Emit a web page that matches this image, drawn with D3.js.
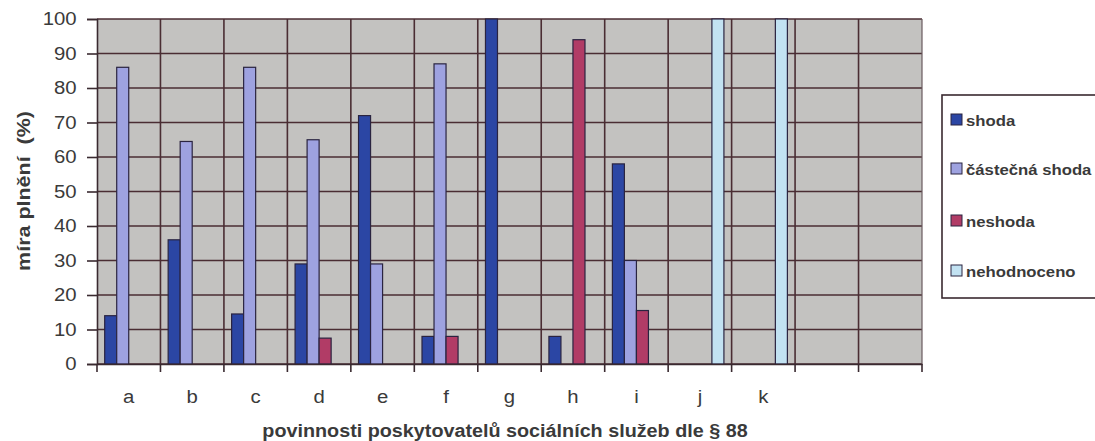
<!DOCTYPE html>
<html>
<head>
<meta charset="utf-8">
<script src="https://cdn.jsdelivr.net/npm/d3@7"></script>
<style>
  body { margin: 0; background: #fff; }
  text { font-family: "Liberation Sans", Arial, sans-serif; }
</style>
</head>
<body>
<div id="chart"></div>
<script>
// Données
const categories = ['a', 'b', 'c', 'd', 'e', 'f', 'g', 'h', 'i', 'j', 'k', '', ' '];
const series = ['shoda', 'částečná shoda', 'neshoda', 'nehodnoceno'];
const shoda = [14, 36, 14.5, 29, 72, 8, 100, 8, 58, 0, 0, 0, 0];
const castecnaShoda = [86, 64.5, 86, 65, 29, 87, 0, 0, 30, 0, 0, 0, 0];
const neshoda = [0, 0, 0, 7.5, 0, 8, 0, 94, 15.5, 0, 0, 0, 0];
const nehodnoceno = [0, 0, 0, 0, 0, 0, 0, 0, 0, 100, 100, 0, 0];
const yTicks = [0, 10, 20, 30, 40, 50, 60, 70, 80, 90, 100];

const values = [shoda, castecnaShoda, neshoda, nehodnoceno];
const colors = ['#2b46a4', '#9ea2e0', '#b13c66', '#c2e2f2'];

// le texte de l'original est un peu étiré horizontalement
const stretch = 'scale(1.13,1)';

const svg = d3.select('#chart')
    .append('svg')
    .attr('width', 1095)
    .attr('height', 441);

const margin = { top: 19, left: 97 };
const width = 825;
const height = 345;

const g = svg.append('g')
    .attr('transform', `translate(${margin.left},${margin.top})`);

// Échelles
const x = d3.scaleBand()
    .domain(categories)
    .range([0, width])
    .padding(0);

const xSub = d3.scaleBand()
    .domain(series)
    .range([0, x.bandwidth()])
    .paddingInner(0)
    .paddingOuter(0.64);

const y = d3.scaleLinear()
    .domain([0, 100])
    .range([height, 0]);

// Fond
g.append('rect')
    .attr('width', width)
    .attr('height', height)
    .attr('fill', '#c3c2c0');

// Grille horizontale
g.selectAll('.hgrid')
    .data(yTicks)
    .enter()
    .append('line')
    .attr('x1', 0)
    .attr('x2', width)
    .attr('y1', d => y(d))
    .attr('y2', d => y(d))
    .attr('stroke', '#4a2d33')
    .attr('stroke-width', 1.6);

// Grille verticale
g.selectAll('.vgrid')
    .data(categories.slice(1))
    .enter()
    .append('line')
    .attr('x1', d => x(d))
    .attr('x2', d => x(d))
    .attr('y1', 0)
    .attr('y2', height)
    .attr('stroke', '#4a2d33')
    .attr('stroke-width', 1.6);

g.append('line')
    .attr('x1', width).attr('x2', width)
    .attr('y1', 0).attr('y2', height)
    .attr('stroke', '#6a5a5e')
    .attr('stroke-width', 1.2);

// Barres
series.forEach((s, i) => {
    g.selectAll('.bar-' + i)
        .data(categories.map((c, j) => ({ c, v: values[i][j] })).filter(d => d.v > 0))
        .enter()
        .append('rect')
        .attr('x', d => x(d.c) + xSub(s))
        .attr('y', d => y(d.v))
        .attr('width', xSub.bandwidth())
        .attr('height', d => height - y(d.v))
        .attr('fill', colors[i])
        .attr('stroke', '#2a2440')
        .attr('stroke-width', 1.2);
});

// Axe Y
const yAxis = g.append('g')
    .call(d3.axisLeft(y).tickValues(yTicks).tickSize(10).tickPadding(8));
yAxis.select('.domain').attr('stroke', '#3a2a30').attr('stroke-width', 1.6);
yAxis.selectAll('.tick line').attr('stroke', '#3a2a30').attr('stroke-width', 1.6);
yAxis.selectAll('.tick text')
    .attr('font-size', 18)
    .attr('fill', '#3a3a3a')
    .attr('transform', stretch)
    .style('font-family', '"Liberation Sans", Arial, sans-serif');

// Axe X
const xAxis = g.append('g')
    .attr('transform', `translate(0,${height})`)
    .call(d3.axisBottom(x).tickSize(0).tickPadding(26));
xAxis.select('.domain').attr('stroke', '#3a2a30').attr('stroke-width', 1.6);
xAxis.selectAll('.tick text')
    .attr('font-size', 18)
    .attr('fill', '#3a3a3a')
    .attr('transform', stretch)
    .style('font-family', '"Liberation Sans", Arial, sans-serif');

g.selectAll('.xtick')
    .data(categories.concat(['end']))
    .enter()
    .append('line')
    .attr('x1', (d, i) => i * x.step())
    .attr('x2', (d, i) => i * x.step())
    .attr('y1', height)
    .attr('y2', height + 8)
    .attr('stroke', '#3a2a30')
    .attr('stroke-width', 1.6);

// Titres des axes
svg.append('text')
    .attr('transform', 'translate(30,191) rotate(-90) ' + stretch)
    .attr('text-anchor', 'middle')
    .attr('font-size', 19)
    .attr('font-weight', 'bold')
    .attr('fill', '#3a3a3a')
    .style('white-space', 'pre')
    .text('míra plnění  (%)');

svg.append('text')
    .attr('transform', 'translate(505,437) ' + stretch)
    .attr('text-anchor', 'middle')
    .attr('font-size', 17.5)
    .attr('font-weight', 'bold')
    .attr('fill', '#3a3a3a')
    .text('povinnosti poskytovatelů sociálních služeb dle § 88');

// Légende
const legend = svg.append('g').attr('transform', 'translate(942,95)');
legend.append('rect')
    .attr('width', 170)
    .attr('height', 203)
    .attr('fill', '#fff')
    .attr('stroke', '#3a2a30')
    .attr('stroke-width', 1.6);

const legendY = [25, 74, 126, 176];
series.forEach((s, i) => {
    legend.append('rect')
        .attr('x', 9)
        .attr('y', legendY[i] - 6)
        .attr('width', 11)
        .attr('height', 11)
        .attr('fill', colors[i])
        .attr('stroke', '#2a2440')
        .attr('stroke-width', 1);
    legend.append('text')
        .attr('transform', `translate(24,${legendY[i] + 6}) ${stretch}`)
        .attr('font-size', 14.8)
        .attr('font-weight', 'bold')
        .attr('fill', '#3a3a3a')
        .text(s);
});
</script>
</body>
</html>
